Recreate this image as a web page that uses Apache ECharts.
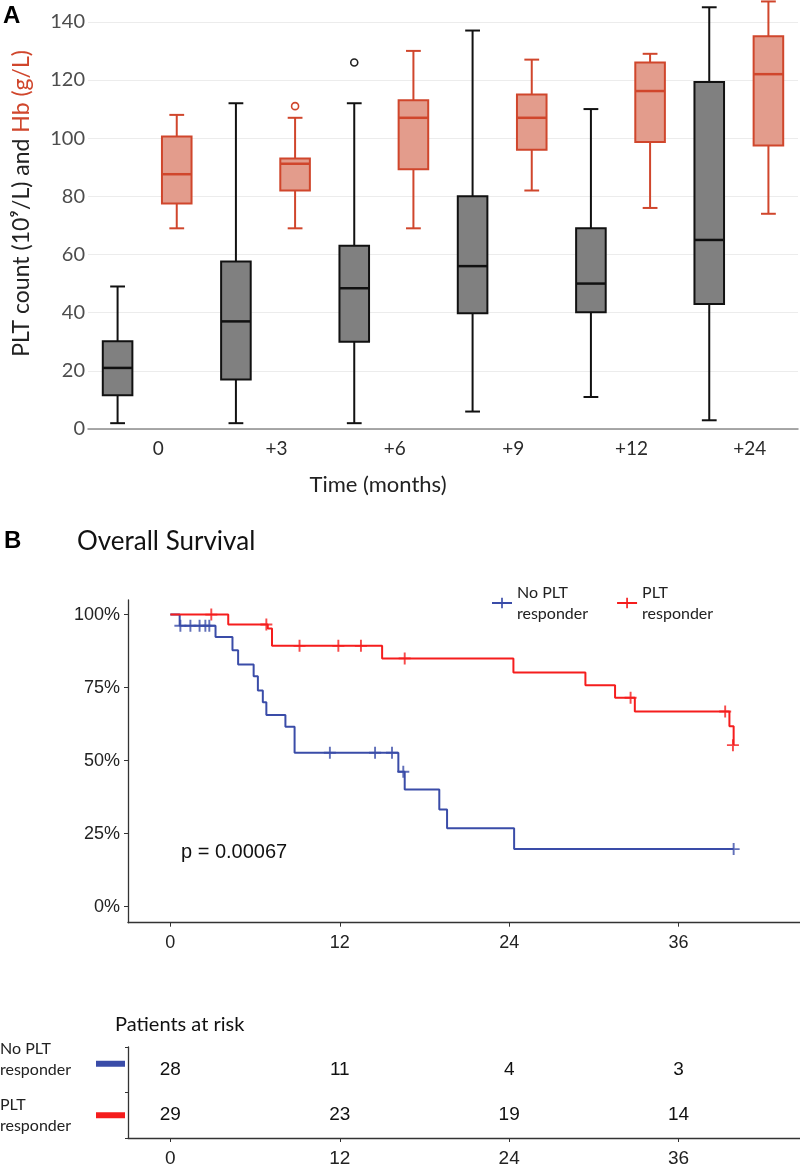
<!DOCTYPE html>
<html><head><meta charset="utf-8">
<script src="https://cdn.jsdelivr.net/npm/echarts@6/dist/echarts.min.js"></script>
<style>html,body{margin:0;padding:0;background:#fff}#c{width:800px;height:1166px}</style>
</head><body><div id="c"></div>
<script>
// ---- Panel A: box plots ----
const categories = ['0', '+3', '+6', '+9', '+12', '+24'];
const pltLow    = [2, 2, 2, 6, 11, 3];
const pltQ1     = [11.6, 17, 30, 39.8, 40.1, 43];
const pltMedian = [21, 37, 48.4, 56, 50, 65];
const pltQ3     = [30.2, 57.6, 63, 80, 69, 119.3];
const pltHigh   = [49, 112, 112, 137, 110, 145];
const pltOutliers = [[2, 126]];
const hbLow    = [69, 69, 69, 82, 76, 74];
const hbQ1     = [77.5, 82, 89.3, 96, 98.7, 97.5];
const hbMedian = [87.6, 91.2, 107, 107, 116.2, 122];
const hbQ3     = [100.6, 93, 113, 115, 126, 135];
const hbHigh   = [108, 107, 130, 127, 129, 147];
const hbOutliers = [[1, 111]];

// ---- Panel B: Kaplan-Meier ----
const noRespTime = [0, 0.66, 3.2, 4.4, 4.8, 5.9, 6.2, 6.55, 6.8, 8.15, 8.8, 16.15, 16.6, 19.05, 19.6, 24.35, 39.9];
const noRespSurv = [100, 96.2, 92.3, 87.8, 82.9, 78.9, 74.0, 70.0, 65.6, 61.6, 52.7, 46.2, 40.1, 33.3, 26.8, 19.7, 19.7];
const noRespCensorTime = [0.71, 1.42, 2.07, 2.48, 2.76, 11.3, 14.5, 15.7, 16.5, 39.9];
const noRespCensorSurv = [96.2, 96.2, 96.2, 96.2, 96.2, 52.7, 52.7, 52.7, 46.2, 19.7];
const respTime = [0, 4.1, 6.9, 7.2, 15.0, 24.3, 29.4, 31.5, 32.9, 39.6, 39.9];
const respSurv = [100, 96.6, 95.2, 89.3, 85.0, 80.2, 75.8, 71.5, 66.8, 61.8, 55.3];
const respCensorTime = [2.9, 6.8, 9.15, 11.9, 13.5, 16.6, 32.6, 39.3, 39.85];
const respCensorSurv = [100, 96.6, 89.3, 89.3, 89.3, 85.0, 71.5, 66.8, 55.3];
const kmTicks = [0, 12, 24, 36];
const survTicks = [0, 25, 50, 75, 100];
const riskRows = ['PLT responder', 'No PLT responder'];
const riskTimes = [0, 12, 24, 36];
const riskNoResp = [28, 11, 4, 3];
const riskResp = [29, 23, 19, 14];

const GRAY_FILL = '#808080', GRAY_STROKE = '#111111';
const RED_FILL = '#e39c8c', RED_STROKE = '#d0462c';
const KM_BLUE = '#3a4ca8', KM_RED = '#f51d1d';
const PLUS = 'path://M4.2,0H5.8V4.2H10V5.8H5.8V10H4.2V5.8H0V4.2H4.2Z';

function boxData(lo, q1, md, q3, hi) {
  return categories.map((c, i) => [i, lo[i], q1[i], md[i], q3[i], hi[i]]);
}
function boxRenderer(off, stroke, fill) {
  return function (params, api) {
    const i = api.value(0);
    const band = api.size([1, 0])[0];
    const cx = api.coord([i, 0])[0] + off * band;
    const y = v => api.coord([i, v])[1];
    const lo = y(api.value(1)), q1 = y(api.value(2)), md = y(api.value(3)),
          q3 = y(api.value(4)), hi = y(api.value(5));
    const bw = band * 0.25, cw = bw * 0.5;
    const ls = { stroke: stroke, lineWidth: 2 };
    return { type: 'group', children: [
      { type: 'line', shape: { x1: cx, y1: hi, x2: cx, y2: q3 }, style: ls },
      { type: 'line', shape: { x1: cx, y1: q1, x2: cx, y2: lo }, style: ls },
      { type: 'line', shape: { x1: cx - cw / 2, y1: hi, x2: cx + cw / 2, y2: hi }, style: ls },
      { type: 'line', shape: { x1: cx - cw / 2, y1: lo, x2: cx + cw / 2, y2: lo }, style: ls },
      { type: 'rect', shape: { x: cx - bw / 2, y: q3, width: bw, height: q1 - q3 }, style: { fill: fill, stroke: stroke, lineWidth: 2 } },
      { type: 'line', shape: { x1: cx - bw / 2, y1: md, x2: cx + bw / 2, y2: md }, style: { stroke: stroke, lineWidth: 2.5 } }
    ]};
  };
}
function outlierRenderer(off, stroke) {
  return function (params, api) {
    const i = api.value(0);
    const band = api.size([1, 0])[0];
    const p = api.coord([i, api.value(1)]);
    return { type: 'circle', shape: { cx: p[0] + off * band, cy: p[1], r: 3.5 }, style: { fill: '#fff', stroke: stroke, lineWidth: 1.6 } };
  };
}
function riskTextRenderer(params, api) {
  const p = api.coord([api.value(0), api.value(1)]);
  return { type: 'text', x: p[0], y: p[1],
    style: { text: String(api.value(2)), font: '19px "Liberation Sans", Arial', fill: '#111', align: 'center', verticalAlign: 'middle' } };
}
const zip = (a, b) => a.map((v, i) => [v, b[i]]);

const chart = echarts.init(document.getElementById('c'), null, { renderer: 'canvas' });
const kmAxisLine = { show: true, onZero: false, lineStyle: { color: '#333', width: 1.3 } };
const armFont = '"Liberation Sans", Arial, sans-serif';
const calFont = 'Lato, "Open Sans", sans-serif';

chart.setOption({
  animation: false,
  backgroundColor: '#fff',
  grid: [
    { left: 88, top: 0, width: 710, height: 429, outerBoundsMode: 'none' },
    { left: 128, top: 600, width: 672, height: 322.7, outerBoundsMode: 'none' },
    { left: 128, top: 1047, width: 672, height: 91, outerBoundsMode: 'none' }
  ],
  xAxis: [
    { type: 'category', gridIndex: 0, data: categories, boundaryGap: true,
      axisLine: { show: true, onZero: false, lineStyle: { color: '#8c8c8c', width: 1.5 } },
      axisTick: { show: false },
      axisLabel: { fontFamily: calFont, fontSize: 19, color: '#2b2b2b', margin: 10, padding: [0, 0, 0, 22] },
      name: 'Time (months)', nameLocation: 'middle', nameGap: 45,
      nameTextStyle: { fontFamily: calFont, fontSize: 22, color: '#222', padding: [0, 130, 0, 0] } },
    { type: 'value', gridIndex: 1, min: -3, max: 44.6,
      axisLine: kmAxisLine, splitLine: { show: false },
      axisTick: { show: true, length: 4, customValues: kmTicks, lineStyle: { color: '#333' } },
      axisLabel: { customValues: kmTicks, fontFamily: armFont, fontSize: 18, color: '#222', margin: 11 } },
    { type: 'value', gridIndex: 2, min: -3, max: 44.6,
      axisLine: kmAxisLine, splitLine: { show: false },
      axisTick: { show: true, length: 4, customValues: kmTicks, lineStyle: { color: '#333' } },
      axisLabel: { customValues: kmTicks, fontFamily: armFont, fontSize: 19, color: '#222', margin: 11 } }
  ],
  yAxis: [
    { type: 'value', gridIndex: 0, min: 0, max: 147.5, interval: 20,
      axisLine: { show: false, onZero: false }, axisTick: { show: false },
      splitLine: { show: true, showMaxLine: false, lineStyle: { color: '#ececec', width: 1 } },
      axisLabel: { showMaxLabel: false, fontFamily: calFont, fontSize: 20, color: '#4d4d4d', margin: 3 },
      name: '{a|PLT count (10⁹/L) and }{b|Hb (g/L)}', nameLocation: 'middle', nameRotate: 90, nameGap: 55,
      nameTextStyle: { padding: [0, 0, 0, 22],
        rich: { a: { fontFamily: calFont, fontSize: 23, color: '#222' }, b: { fontFamily: calFont, fontSize: 23, color: RED_STROKE } } } },
    { type: 'value', gridIndex: 1, min: -5.5, max: 105,
      axisLine: kmAxisLine, splitLine: { show: false },
      axisTick: { show: true, length: 4, customValues: survTicks, lineStyle: { color: '#333' } },
      axisLabel: { customValues: survTicks, formatter: '{value}%', fontFamily: armFont, fontSize: 18, color: '#222', margin: 8 } },
    { type: 'category', gridIndex: 2, data: riskRows, position: 'left',
      axisLine: kmAxisLine, axisTick: { show: true, length: 3, lineStyle: { color: '#333' } },
      axisLabel: { margin: 3, interval: 0,
        formatter: v => v === 'No PLT responder' ? '{blue|}\n{sp|}' : '{red|}',
        rich: { blue: { width: 29, height: 6, backgroundColor: KM_BLUE }, red: { width: 29, height: 6, backgroundColor: KM_RED }, sp: { height: 12 } } } },
    { type: 'category', gridIndex: 2, data: riskRows, position: 'left',
      axisLine: { show: false, onZero: false }, axisTick: { show: false },
      axisLabel: { align: 'left', margin: 128, interval: 0, hideOverlap: false, fontFamily: calFont, fontSize: 16, color: '#222', lineHeight: 21,
        formatter: v => v === 'No PLT responder' ? 'No PLT\nresponder\n' : 'PLT\nresponder' } }
  ],
  legend: {
    left: 486, top: 577, itemWidth: 20, itemHeight: 13, itemGap: 28,
    data: ['No PLT responder', 'PLT responder'],
    formatter: n => n === 'No PLT responder' ? 'No PLT\nresponder' : 'PLT\nresponder',
    textStyle: { fontFamily: calFont, fontSize: 16, color: '#222', lineHeight: 21 }
  },
  graphic: [
    { type: 'text', x: 3, y: 16, style: { text: 'A', font: 'bold 24px "Liberation Sans", Arial', fill: '#000', verticalAlign: 'middle' } },
    { type: 'text', x: 4, y: 541, style: { text: 'B', font: 'bold 24px "Liberation Sans", Arial', fill: '#000', verticalAlign: 'middle' } },
    { type: 'text', x: 77, y: 542, style: { text: 'Overall Survival', font: '26px Lato, "Open Sans"', fill: '#111', verticalAlign: 'middle' } },
    { type: 'text', x: 181, y: 852, style: { text: 'p = 0.00067', font: '20px "Liberation Sans", Arial', fill: '#111', verticalAlign: 'middle' } },
    { type: 'text', x: 115, y: 1025, style: { text: 'Patients at risk', font: '20px Lato, "Open Sans"', fill: '#111', verticalAlign: 'middle' } }
  ],
  series: [
    { type: 'custom', name: 'PLT', xAxisIndex: 0, yAxisIndex: 0, data: boxData(pltLow, pltQ1, pltMedian, pltQ3, pltHigh),
      encode: { x: 0, y: [1, 2, 3, 4, 5] }, renderItem: boxRenderer(-0.25, GRAY_STROKE, GRAY_FILL), z: 3 },
    { type: 'custom', name: 'Hb', xAxisIndex: 0, yAxisIndex: 0, data: boxData(hbLow, hbQ1, hbMedian, hbQ3, hbHigh),
      encode: { x: 0, y: [1, 2, 3, 4, 5] }, renderItem: boxRenderer(0.25, RED_STROKE, RED_FILL), z: 3 },
    { type: 'custom', name: 'PLT outliers', xAxisIndex: 0, yAxisIndex: 0, data: pltOutliers,
      encode: { x: 0, y: 1 }, renderItem: outlierRenderer(-0.25, '#222'), z: 4 },
    { type: 'custom', name: 'Hb outliers', xAxisIndex: 0, yAxisIndex: 0, data: hbOutliers,
      encode: { x: 0, y: 1 }, renderItem: outlierRenderer(0.25, RED_STROKE), z: 4 },

    { type: 'line', name: 'PLT responder', xAxisIndex: 1, yAxisIndex: 1, data: zip(respTime, respSurv), step: 'end',
      showSymbol: false, symbol: PLUS, symbolSize: 12, color: KM_RED, lineStyle: { width: 2, color: KM_RED }, z: 3 },
    { type: 'line', name: 'No PLT responder', xAxisIndex: 1, yAxisIndex: 1, data: zip(noRespTime, noRespSurv), step: 'end',
      showSymbol: false, symbol: PLUS, symbolSize: 12, color: KM_BLUE, lineStyle: { width: 2, color: KM_BLUE }, z: 2 },
    { type: 'scatter', name: 'PLT responder censored', xAxisIndex: 1, yAxisIndex: 1, data: zip(respCensorTime, respCensorSurv),
      symbol: PLUS, symbolSize: 12, itemStyle: { color: KM_RED }, z: 4 },
    { type: 'scatter', name: 'No PLT responder censored', xAxisIndex: 1, yAxisIndex: 1, data: zip(noRespCensorTime, noRespCensorSurv),
      symbol: PLUS, symbolSize: 12, itemStyle: { color: KM_BLUE }, z: 4 },

    { type: 'custom', name: 'risk', xAxisIndex: 2, yAxisIndex: 2,
      data: riskTimes.map((t, i) => [t, 1, riskNoResp[i]]).concat(riskTimes.map((t, i) => [t, 0, riskResp[i]])),
      encode: { x: 0, y: 1 }, renderItem: riskTextRenderer }
  ]
});
</script></body></html>
